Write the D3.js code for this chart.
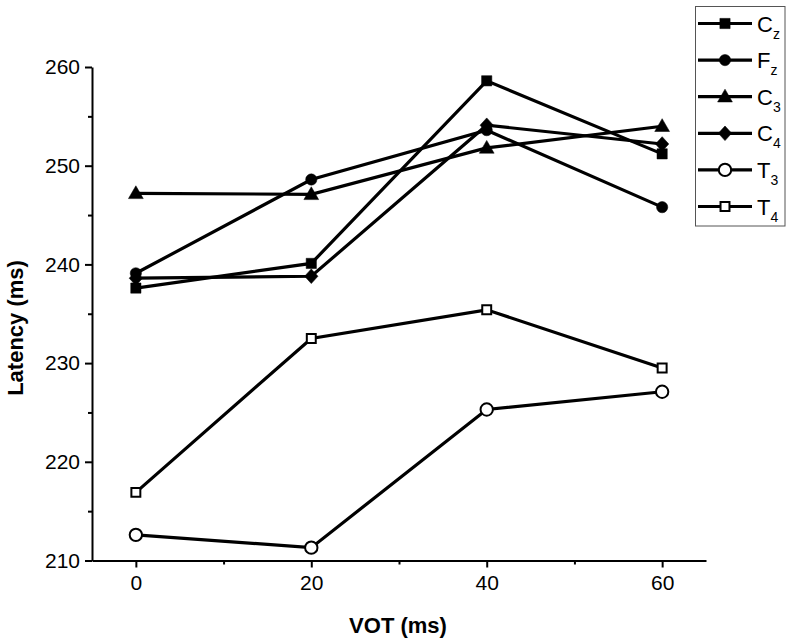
<!DOCTYPE html>
<html><head><meta charset="utf-8">
<script src="https://cdn.jsdelivr.net/npm/d3@7"></script>
<style>body{margin:0;background:#fff}svg{display:block}</style>
</head><body>
<script>
const vot = [0, 20, 40, 60];
const seriesNames = ["C", "F", "C", "C", "T", "T"];
const seriesSubs = ["z", "z", "3", "4", "3", "4"];
const seriesSymbols = ["square", "circle", "triangle", "diamond", "circle", "square"];
const seriesFilled = [true, true, true, true, false, false];
const Cz = [237.6, 240.1, 258.6, 251.2];
const Fz = [239.1, 248.6, 253.6, 245.8];
const C3 = [247.2, 247.1, 251.8, 254.0];
const C4 = [238.6, 238.8, 254.1, 252.2];
const T3 = [212.6, 211.3, 225.3, 227.1];
const T4 = [216.9, 232.5, 235.4, 229.5];
const seriesValues = [Cz, Fz, C3, C4, T3, T4];
const xTicks = [0, 20, 40, 60];
const xMinorTicks = [10, 30, 50];
const yTicks = [210, 220, 230, 240, 250, 260];
const yMinorTicks = [215, 225, 235, 245, 255];
const xTitle = "VOT (ms)";
const yTitle = "Latency (ms)";

const W = 792, H = 643;
const svg = d3.select("body").append("svg").attr("width", W).attr("height", H);
const x = d3.scaleLinear().domain([-5, 65]).range([92, 706]);
const y = d3.scaleLinear().domain([210, 260]).range([560.5, 67]);
const font = "'Liberation Sans', Arial, sans-serif";

// axes
svg.append("g").attr("transform", `translate(0,${y(210)})`)
  .call(d3.axisBottom(x).tickValues(xTicks).tickSize(7).tickSizeOuter(0).tickPadding(8).tickFormat(d3.format("d")));
const xMinor = svg.append("g").attr("transform", `translate(0,${y(210)})`)
  .call(d3.axisBottom(x).tickValues(xMinorTicks).tickSize(4).tickSizeOuter(0).tickFormat(""));
xMinor.select(".domain").remove();
svg.append("g").attr("transform", `translate(${x(-5)},0)`)
  .call(d3.axisLeft(y).tickValues(yTicks).tickSize(7).tickSizeOuter(0).tickPadding(5).tickFormat(d3.format("d")));
const yMinor = svg.append("g").attr("transform", `translate(${x(-5)},0)`)
  .call(d3.axisLeft(y).tickValues(yMinorTicks).tickSize(4).tickSizeOuter(0).tickFormat(""));
yMinor.select(".domain").remove();
svg.selectAll(".domain, .tick line").attr("stroke", "#000").attr("stroke-width", 2);
svg.selectAll(".tick text").attr("font-family", font).attr("font-size", 21).attr("fill", "#000");

svg.append("text").attr("x", 398).attr("y", 633).attr("text-anchor", "middle")
  .attr("font-family", font).attr("font-weight", "bold").attr("font-size", 22).text(xTitle);
svg.append("text").attr("transform", `translate(23,328) rotate(-90)`).attr("text-anchor", "middle")
  .attr("font-family", font).attr("font-weight", "bold").attr("font-size", 22).text(yTitle);

const symType = {square: d3.symbolSquare, circle: d3.symbolCircle, triangle: d3.symbolTriangle, diamond: d3.symbolSquare};
const symSize = {square: 105, circle: 100, triangle: 95, diamond: 88};
function drawMarker(g, i, cx, cy) {
  const s = seriesSymbols[i];
  let sizeF = symSize[s];
  if (!seriesFilled[i]) sizeF = s === "circle" ? 120 : 80;
  let tf = `translate(${cx},${cy + (s === "triangle" ? 1 : 0)})`;
  if (s === "diamond") tf += " scale(1,1.1) rotate(45)";
  g.append("path").attr("d", d3.symbol().type(symType[s]).size(sizeF)())
    .attr("transform", tf)
    .attr("fill", seriesFilled[i] ? "#000" : "#fff")
    .attr("stroke", "#000").attr("stroke-width", seriesFilled[i] ? 0.5 : 2);
}

const line = d3.line().x((d, j) => x(vot[j])).y(d => y(d));
const plot = svg.append("g");
seriesValues.forEach((vals) => {
  plot.append("path").attr("d", line(vals)).attr("fill", "none").attr("stroke", "#000").attr("stroke-width", 3.2);
});
seriesValues.forEach((vals, i) => {
  vals.forEach((v, j) => drawMarker(plot, i, x(vot[j]), y(v)));
});

// legend
const lg = svg.append("g");
lg.append("rect").attr("x", 695.5).attr("y", 6.5).attr("width", 89.5).attr("height", 219.5)
  .attr("fill", "#fff").attr("stroke", "#555").attr("stroke-width", 1);
seriesNames.forEach((n, i) => {
  const cy = 23.5 + i * 36.6;
  lg.append("line").attr("x1", 698).attr("x2", 752).attr("y1", cy).attr("y2", cy).attr("stroke", "#000").attr("stroke-width", 3.2);
  drawMarker(lg, i, 725, cy);
  const t = lg.append("text").attr("x", 757).attr("y", cy + 8).attr("font-family", font).attr("font-size", 22);
  t.append("tspan").text(n);
  t.append("tspan").attr("font-size", 14).attr("dy", 7).text(seriesSubs[i]);
});
</script>
</body></html>
